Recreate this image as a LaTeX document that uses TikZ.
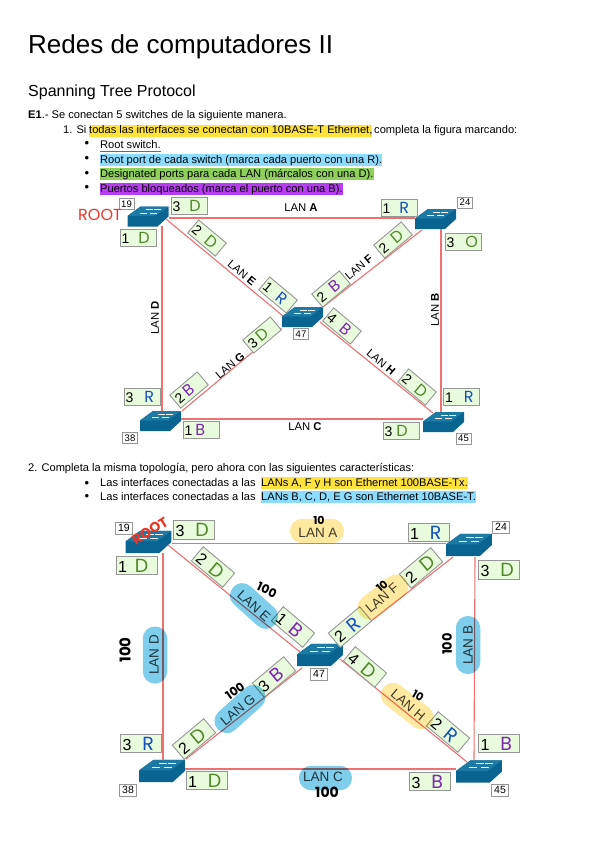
\documentclass[tikz,border=0pt]{standalone}
\usepackage{fontspec}
\setmainfont{Liberation Sans}
\newfontfamily\handfont{Poppins}
\usepackage{tikz}
\usetikzlibrary{positioning,calc}
\definecolor{softyellow}{RGB}{255,226,60}
\definecolor{softblue}{RGB}{140,220,255}
\definecolor{softgreen}{RGB}{142,208,90}
\definecolor{softpurple}{RGB}{184,60,240}
\definecolor{linkred}{RGB}{238,112,112}
\definecolor{portfill}{RGB}{232,251,220}
\definecolor{portedge}{RGB}{150,150,150}
\definecolor{blobyellow}{RGB}{255,233,160}
\definecolor{blobblue}{RGB}{125,205,235}
\definecolor{swfront}{RGB}{10,100,145}
\definecolor{swtop}{RGB}{28,122,165}
\definecolor{handgreen}{RGB}{80,135,40}
\definecolor{handblue}{RGB}{20,80,190}
\definecolor{handpurple}{RGB}{125,40,175}
\definecolor{handred}{RGB}{235,55,40}
\newcommand{\hand}[2]{{\handfont\fontsize{16}{16}\selectfont\color{#1}#2}}
\newcommand{\bighand}[2]{{\handfont\fontsize{19}{19}\selectfont\color{#1}#2}}
\tikzset{
  bodytext/.style={anchor=base west,inner sep=0pt,font=\fontsize{11.1}{12}\selectfont,text height=9.2pt,text depth=2.8pt},
  bulletdot/.style={inner sep=0pt,font=\fontsize{13}{13}\selectfont},
  link/.style={draw=linkred,line width=1.1pt},
  portbox/.style={draw=portedge,line width=.9pt,fill=portfill,inner sep=0pt,minimum width=36pt,minimum height=17pt,text width=33pt,align=left,font=\fontsize{14}{14}\selectfont},
  bigportbox/.style={portbox,minimum width=41pt,minimum height=18.5pt,text width=37pt,font=\fontsize{16}{16}\selectfont},
  idbox/.style={draw=portedge,line width=.8pt,fill=white,inner sep=0pt,minimum width=15pt,minimum height=11pt,font=\fontsize{9.5}{10}\selectfont},
  bigidbox/.style={idbox,minimum width=17pt,minimum height=12pt,font=\fontsize{10.5}{11}\selectfont},
  lanlabel/.style={inner sep=0pt,font=\fontsize{11.3}{13}\selectfont},
  biglanlabel/.style={inner sep=0pt,text=black!75,font=\fontsize{13.5}{15}\selectfont},
  blob/.style={rounded corners=12pt,inner sep=0pt,minimum height=24.5pt},
  scribble/.style={inner sep=0pt,font=\handfont\bfseries\fontsize{11}{12}\selectfont},
  swbox/.style={inner sep=0pt,minimum width=41pt*#1,minimum height=20pt*#1},
  swicon/.pic={
    \begin{scope}[x=#1 pt,y=#1 pt,shift={(-20.5,-10)}]
      \fill[swfront] (0,0)--(0,10.5)--(13,20)--(41,20)--(41,10)--(30,0)--cycle;
      \fill[swtop] (0,10.5)--(13,20)--(41,20)--(28,10.5)--cycle;
      \draw[white,line width=.5pt] (12,13.5)--(19,13.5) (18,17)--(25,17) (22,13.5)--(29,13.5) (26,17)--(33,17);
    \end{scope}}
}
\begin{document}
\begin{tikzpicture}[x=1pt,y=-1pt]
\useasboundingbox (0,0) rectangle (599,848);
% page text
\node[anchor=base west,inner sep=0pt,font=\fontsize{26}{30}\selectfont] (title) at (28,54) {Redes de computadores II};
\node[anchor=base west,inner sep=0pt,font=\fontsize{16}{20}\selectfont] (subtitle) at (28,97) {Spanning Tree Protocol};
\node[bodytext] (intro) at (28,119) {\textbf{E1}.- Se conectan 5 switches de la siguiente manera.};
\node[bodytext] (itemone) at (63,134) {1. Si};
\node[bodytext,fill=softyellow] (itemonehl) at (89,134) {todas las interfaces se conectan con 10BASE-T Ethernet,};
\node[bodytext] (itemonerest) at (374,134) {completa la figura marcando:};
\node[bulletdot] (dota) at (87,144.5) {•};
\node[bulletdot] (dotb) at (87,159.5) {•};
\node[bulletdot] (dotc) at (87,174) {•};
\node[bulletdot] (dotd) at (87,188.5) {•};
\node[bodytext] (rootsw) at (100,148) {Root switch.};
\draw[draw=handred,line width=.8pt] ([yshift=-.4pt]rootsw.south west) -- ([yshift=-.4pt]rootsw.south east);
\node[bodytext,fill=softblue] (rootport) at (100,163) {Root port de cada switch (marca cada puerto con una R).};
\node[bodytext,fill=softgreen] (desig) at (100,177) {Designated ports para cada LAN (márcalos con una D).};
\node[bodytext,fill=softpurple] (blocked) at (100,192) {Puertos bloqueados (marca el puerto con una B).};
\node[bodytext] (itemtwo) at (28,471) {2. Completa la misma topología, pero ahora con las siguientes características:};
\node[bulletdot] (dote) at (87,484) {•};
\node[bulletdot] (dotf) at (87,497) {•};
\node[bodytext] (lasa) at (100,486) {Las interfaces conectadas a las};
\node[bodytext,fill=softyellow] (lasahl) at (261,486) {LANs A, F y H son Ethernet 100BASE-Tx.};
\node[bodytext] (lasb) at (100,500) {Las interfaces conectadas a las};
\node[bodytext,fill=softblue] (lasbhl) at (261,500) {LANs B, C, D, E G son Ethernet 10BASE-T.};
% first topology
\node[swbox=1] (a19) at (148,216.5) {}; \pic at (a19) {swicon=1};
\node[swbox=1] (a24) at (435.5,219) {}; \pic at (a24) {swicon=1};
\node[swbox=1] (a47) at (302.5,317) {}; \pic at (a47) {swicon=1};
\node[swbox=1] (a38) at (160.5,421) {}; \pic at (a38) {swicon=1};
\node[swbox=1] (a45) at (443.5,422) {}; \pic at (a45) {swicon=1};
\draw[link] ([shift={(21,1.5)}]a19.center) -- ([shift={(-20.5,-1)}]a24.center);
\draw[link] ([shift={(14,9.5)}]a19.center) -- ([shift={(1.5,-10)}]a38.center);
\draw[link] ([shift={(18,2.5)}]a19.center) -- ([shift={(-19.5,-1)}]a47.center);
\draw[link] ([shift={(-13.5,11)}]a24.center) -- ([shift={(20.5,-10)}]a47.center);
\draw[link] ([shift={(21.5,-10)}]a38.center) -- ([shift={(-21,11)}]a47.center);
\draw[link] ([shift={(17.5,5)}]a47.center) -- ([shift={(-10.5,-9)}]a45.center);
\draw[link] ([shift={(5.5,10)}]a24.center) -- ([shift={(-2.5,-10)}]a45.center);
\draw[link] ([shift={(20.5,-2)}]a38.center) -- ([shift={(-20.5,-3)}]a45.center);
\node[idbox] (aid19) at (126.5,204) {19};
\node[idbox] (aid24) at (465,202.5) {24};
\node[idbox] (aid47) at (301,334) {47};
\node[idbox] (aid38) at (130,438) {38};
\node[idbox] (aid45) at (463.5,438.5) {45};
\node[portbox] (ap19c) at (189,205.5) {3\hspace{9pt}\hand{handgreen}{D}};
\node[portbox] (ap19a) at (138,237.5) {1\hspace{9pt}\hand{handgreen}{D}};
\node[portbox,rotate=-40] (ap19b) at (207,238) {2\hspace{9pt}\hand{handgreen}{D}};
\node[portbox,rotate=-40] (ap47e) at (278,295) {1\hspace{9pt}\hand{handblue}{R}};
\node[portbox] (ap24a) at (399,208) {1\hspace{9pt}\hand{handblue}{R}};
\node[portbox] (ap24c) at (463,241.5) {3\hspace{11pt}\hand{handgreen}{O}};
\node[portbox,rotate=40] (ap24b) at (393,240) {2\hspace{9pt}\hand{handgreen}{D}};
\node[portbox,rotate=40] (ap47f) at (331,289) {2\hspace{9pt}\hand{handpurple}{B}};
\node[portbox,rotate=-40] (ap47h) at (342,326) {4\hspace{9pt}\hand{handpurple}{B}};
\node[portbox,rotate=-40] (ap45b) at (417,387) {2\hspace{9pt}\hand{handgreen}{D}};
\node[portbox] (ap45a) at (461.5,397) {1\hspace{11pt}\hand{handblue}{R}};
\node[portbox] (ap45c) at (401,430.5) {3\hspace{4pt}\hand{handgreen}{D}};
\node[portbox] (ap38c) at (142,396.5) {3\hspace{11pt}\hand{handblue}{R}};
\node[portbox] (ap38a) at (201,429.5) {1\hspace{3pt}\hand{handpurple}{B}};
\node[portbox,rotate=40] (ap38b) at (189,390) {2\hspace{3pt}\hand{handpurple}{B}};
\node[portbox,rotate=40] (ap47g) at (262,335) {3\hspace{4pt}\hand{handgreen}{D}};
\node[lanlabel] (alana) at (301,208) {LAN \textbf{A}};
\node[lanlabel,rotate=90] (aland) at (155,318) {LAN \textbf{D}};
\node[lanlabel,rotate=-40] (alane) at (242,273) {LAN \textbf{E}};
\node[lanlabel,rotate=40] (alanf) at (359,267) {LAN \textbf{F}};
\node[lanlabel,rotate=90] (alanb) at (435,310) {LAN \textbf{B}};
\node[lanlabel,rotate=40] (alang) at (230,366) {LAN \textbf{G}};
\node[lanlabel,rotate=-40] (alanh) at (381,362) {LAN \textbf{H}};
\node[lanlabel] (alanc) at (305,427) {LAN \textbf{C}};
\node[inner sep=0pt,font=\handfont\fontsize{16}{16}\selectfont,text=handred] (arootmark) at (100,215) {ROOT};
% second topology
\node[swbox=1.12] (b19) at (148.5,542) {}; \pic at (b19) {swicon=1.12};
\node[swbox=1.12] (b24) at (469,545) {}; \pic at (b24) {swicon=1.12};
\node[swbox=1.12] (b47) at (320,655) {}; \pic at (b47) {swicon=1.12};
\node[swbox=1.12] (b38) at (162,771) {}; \pic at (b38) {swicon=1.12};
\node[swbox=1.12] (b45) at (479,771.5) {}; \pic at (b45) {swicon=1.12};
\draw[link,line width=1.5pt] ([shift={(23,1.5)}]b19.center) -- ([shift={(-23,-1.5)}]b24.center);
\draw[link] ([shift={(14.5,11)}]b19.center) -- ([shift={(1,-11)}]b38.center);
\draw[link] ([shift={(19.5,3)}]b19.center) -- ([shift={(-20,-3)}]b47.center);
\draw[link] ([shift={(-16,12)}]b24.center) -- ([shift={(23,-12)}]b47.center);
\draw[link] ([shift={(24,-12)}]b38.center) -- ([shift={(-18,13)}]b47.center);
\draw[link] ([shift={(20,4)}]b47.center) -- ([shift={(-12,-9.5)}]b45.center);
\draw[link] ([shift={(6,12)}]b24.center) -- ([shift={(-5,-11.5)}]b45.center);
\draw[link] ([shift={(23,-2)}]b38.center) -- ([shift={(-23,-2.5)}]b45.center);
\node[bigidbox] (bid19) at (124,528) {19};
\node[bigidbox] (bid24) at (501,527) {24};
\node[bigidbox] (bid47) at (319,674) {47};
\node[bigidbox] (bid38) at (128,790) {38};
\node[bigidbox] (bid45) at (500,790) {45};
\node[bigportbox] (bp19c) at (194,530) {3\hspace{11pt}\bighand{handgreen}{D}};
\node[bigportbox] (bp19a) at (136.5,565.5) {1\hspace{8pt}\bighand{handgreen}{D}};
\node[bigportbox,rotate=-40] (bp19b) at (213,567) {2\hspace{8pt}\bighand{handgreen}{D}};
\node[bigportbox,rotate=-40] (bp47e) at (293,627) {1\hspace{8pt}\bighand{handpurple}{B}};
\node[bigportbox] (bp24a) at (428.5,532.5) {1\hspace{11pt}\bighand{handblue}{R}};
\node[bigportbox] (bp24c) at (499,570) {3\hspace{11pt}\bighand{handgreen}{D}};
\node[bigportbox,rotate=40] (bp24b) at (421,568) {2\hspace{11pt}\bighand{handgreen}{D}};
\node[bigportbox,rotate=40] (bp47f) at (350,627) {2\hspace{8pt}\bighand{handblue}{R}};
\node[bigportbox,rotate=-40] (bp47h) at (365,667) {4\hspace{8pt}\bighand{handgreen}{D}};
\node[bigportbox,rotate=-40] (bp45b) at (448,732) {2\hspace{8pt}\bighand{handblue}{R}};
\node[bigportbox] (bp45a) at (499,743.5) {1\hspace{11pt}\bighand{handpurple}{B}};
\node[bigportbox] (bp45c) at (430,781.5) {3\hspace{11pt}\bighand{handpurple}{B}};
\node[bigportbox] (bp38c) at (141,743.5) {3\hspace{11pt}\bighand{handblue}{R}};
\node[bigportbox] (bp38a) at (206.5,780.5) {1\hspace{11pt}\bighand{handgreen}{D}};
\node[bigportbox,rotate=40] (bp38b) at (194,739) {2\hspace{8pt}\bighand{handgreen}{D}};
\node[bigportbox,rotate=40] (bp47g) at (274,677) {3\hspace{8pt}\bighand{handpurple}{B}};
\node[biglanlabel] (blana) at (318,533) {LAN A};
\node[biglanlabel,rotate=90] (bland) at (154,655) {LAN D};
\node[biglanlabel,rotate=-42] (blane) at (254,606) {LAN E};
\node[biglanlabel,rotate=40] (blanf) at (382,598) {LAN F};
\node[biglanlabel,rotate=90] (blanb) at (468,645) {LAN B};
\node[biglanlabel,rotate=40] (blang) at (238,710) {LAN G};
\node[biglanlabel,rotate=-40] (blanh) at (408,705) {LAN H};
\node[biglanlabel] (blanc) at (323,777) {LAN C};
% marker strokes on top
\begin{scope}[blend mode=multiply]
\node[blob,fill=blobyellow,minimum width=54pt] (hla) at (317,531) {};
\node[blob,fill=blobyellow,rotate=38,minimum width=58pt] (hlf) at (383,597) {};
\node[blob,fill=blobyellow,rotate=-38,minimum width=60pt] (hlh) at (407,706) {};
\node[blob,fill=blobblue,rotate=90,minimum width=57pt] (hld) at (155,655) {};
\node[blob,fill=blobblue,rotate=90,minimum width=58pt] (hlb) at (468,645) {};
\node[blob,fill=blobblue,rotate=-42,minimum width=56pt] (hle) at (254,606) {};
\node[blob,fill=blobblue,rotate=42,minimum width=60pt] (hlg) at (240,709) {};
\node[blob,fill=blobblue,minimum width=53pt] (hlc) at (325.5,778) {};
\end{scope}
\node[scribble] (tena) at (319,520) {10};
\node[scribble,rotate=40] (tenf) at (382,586) {10};
\node[scribble,rotate=-30] (tenh) at (418,696) {10};
\node[scribble,rotate=-25,font=\handfont\bfseries\fontsize{12}{12}\selectfont] (hundrede) at (267,590) {100};
\node[scribble,rotate=90,font=\handfont\bfseries\fontsize{15}{15}\selectfont] (hundredd) at (125,650) {100};
\node[scribble,rotate=90,font=\handfont\bfseries\fontsize{13}{13}\selectfont] (hundredb) at (447,644) {100};
\node[scribble,rotate=35,font=\handfont\bfseries\fontsize{12}{12}\selectfont] (hundredg) at (235,691) {100};
\node[scribble,font=\handfont\bfseries\fontsize{14}{14}\selectfont] (hundredc) at (327,792) {100};
\node[inner sep=0pt,rotate=32,font=\handfont\bfseries\fontsize{14}{14}\selectfont,text=handred] (brootmark) at (150,531) {ROOT};
\end{tikzpicture}
\end{document}
